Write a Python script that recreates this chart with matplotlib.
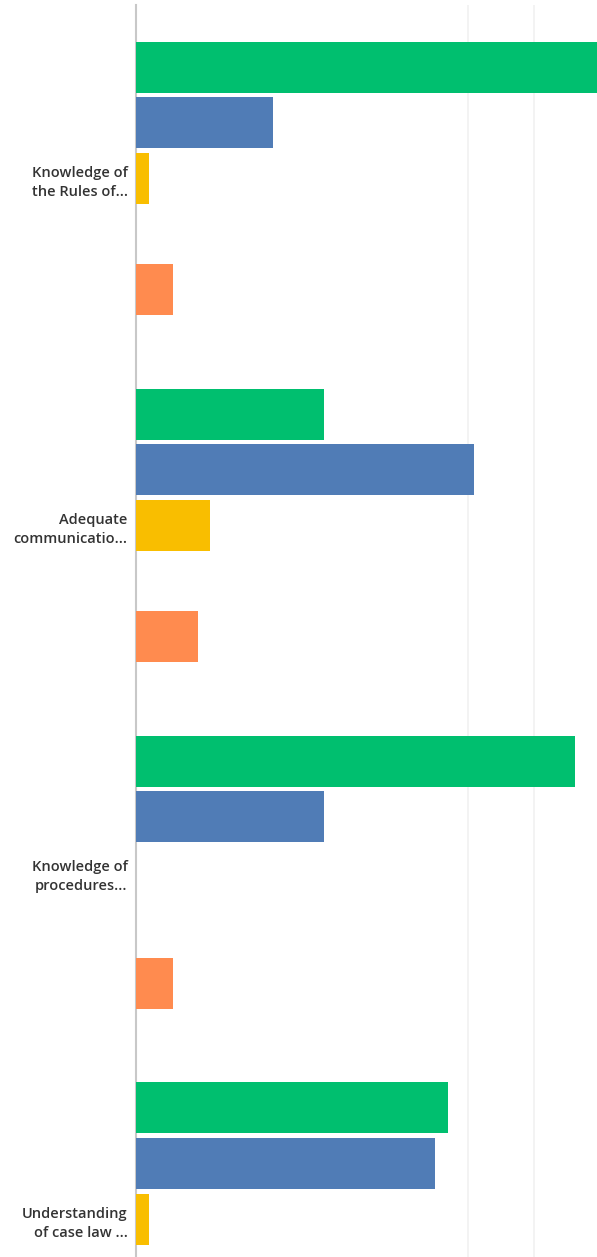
import numpy as np
import matplotlib.pyplot as plt

# Answer categories (labels as shown, truncated)
categories = ["Knowledge of\nthe Rules of...",
              "Adequate\ncommunicatio...",
              "Knowledge of\nprocedures...",
              "Understanding\nof case law ..."]

# Percent of respondents per rating, one list per series
very_important = [72.0, 28.3, 66.1, 47.0]
important      = [20.7, 50.9, 28.3, 45.1]
neutral        = [1.9, 11.2, 0.0, 2.0]
not_important  = [0.0, 0.0, 0.0, 0.0]
not_applicable = [5.5, 9.3, 5.5, 0.0]

series = [very_important, important, neutral, not_important, not_applicable]
colors = ["#00BF6F", "#507CB6", "#F9BE00", "#6BC8CD", "#FF8B4F"]

fig = plt.figure(figsize=(5.97, 12.57), dpi=100)
ax = fig.add_axes([136/597, 0, 1 - 136/597, 1 - 5/1257])

y = np.arange(len(categories))
slot = 0.1605
for i, (vals, c) in enumerate(zip(series, colors)):
    ax.barh(y + (i - 2) * slot, vals, height=0.147, color=c, zorder=3)

ax.set_xlim(0, 69.43)
ax.set_ylim(3.1086, -0.5)

ax.set_xticks([50, 60])
ax.set_xticklabels([])
ax.tick_params(axis="x", length=0)
ax.grid(axis="x", color="#f1f1f1", linewidth=1.2, zorder=0)

ax.set_yticks(y)
ax.set_yticklabels(categories, fontsize=10.5, color="#333333",
                   fontfamily="Open Sans", fontweight="semibold",
                   linespacing=1.5)
ax.tick_params(axis="y", length=0, pad=6)

for side in ["top", "right", "bottom"]:
    ax.spines[side].set_visible(False)
ax.spines["left"].set_color("#c8c8c8")
ax.spines["left"].set_linewidth(1.5)

fig.savefig("out.png", dpi=100)
